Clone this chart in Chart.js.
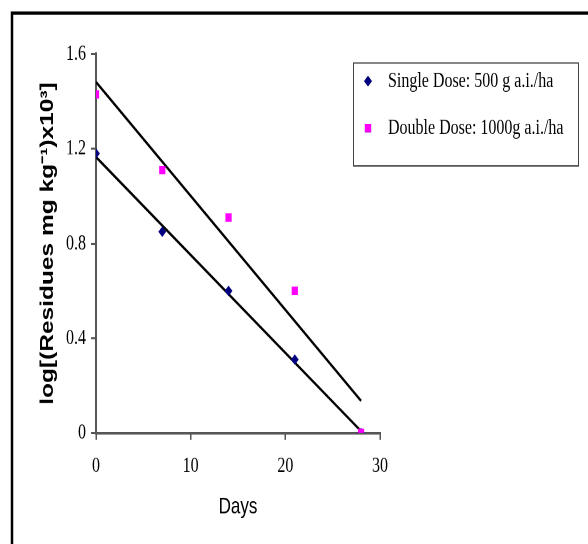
<!DOCTYPE html>
<html>
<head>
<meta charset="utf-8">
<script src="https://cdn.jsdelivr.net/npm/chart.js@4.4.1/dist/chart.umd.min.js"></script>
<style>
  html, body { margin: 0; padding: 0; background: #fff; }
  #wrap { position: absolute; left: 0; top: 0; width: 588px; height: 400px;
          transform: scaleY(1.36); transform-origin: 0 0; }
</style>
</head>
<body>
<div id="wrap"><canvas id="chart" width="588" height="400"></canvas></div>
<script>
// values
var days = [0, 7, 14, 21, 28];
var singleDose = [1.18, 0.85, 0.60, 0.31, 0.0];
var doubleDose = [1.43, 1.11, 0.91, 0.60, 0.0];
// fitted trend lines, start and end (day 0 and day 28)
var trendDays = [0, 28];
var singleTrend = [1.165, 0.008];
var doubleTrend = [1.482, 0.136];
var xTicks = [0, 10, 20, 30];
var yTicks = [0, 0.4, 0.8, 1.2, 1.6];

var serif = "'Liberation Serif', 'Times New Roman', serif";
var sans = "'Liberation Sans', Arial, sans-serif";

function pts(xs, ys) {
    return xs.map(function (x, i) { return {x: x, y: ys[i]}; });
}

// outer frame of the figure
var framePlugin = {
    id: 'frame',
    beforeDraw: function (chart) {
        var ctx = chart.ctx;
        ctx.save();
        ctx.strokeStyle = '#000';
        ctx.lineWidth = 2.5;
        ctx.strokeRect(12, 9.6, 800, 800);
        ctx.restore();
    }
};

// boxed legend in the upper right corner
var legendBox = {
    id: 'legendBox',
    afterDraw: function (chart) {
        var ctx = chart.ctx;
        ctx.save();
        ctx.strokeStyle = '#444';
        ctx.lineWidth = 1;
        ctx.strokeRect(353.5, 46.3, 225, 75.7);
        var rows = [chart.data.datasets[0], chart.data.datasets[1]];
        var ys = [59.6, 94.1];
        rows.forEach(function (ds, i) {
            Chart.helpers.drawPoint(ctx, {
                pointStyle: ds.pointStyle, radius: ds.pointRadius, borderWidth: 0
            }, 368, ys[i]);
            ctx.fillStyle = ds.backgroundColor;
            ctx.fill();
            ctx.fillStyle = '#000';
            ctx.font = '16px ' + serif;
            ctx.textBaseline = 'middle';
            ctx.textAlign = 'left';
            ctx.fillText(ds.label, 388, ys[i]);
        });
        ctx.restore();
    }
};

new Chart(document.getElementById('chart').getContext('2d'), {
    type: 'scatter',
    data: {
        datasets: [{
            label: 'Single Dose: 500 g a.i./ha',
            data: pts(days, singleDose),
            pointStyle: 'rectRot',
            pointRadius: 3.9,
            backgroundColor: '#000080',
            borderColor: '#000080',
            borderWidth: 0,
            order: 1
        }, {
            label: 'Double Dose: 1000g a.i./ha',
            data: pts(days, doubleDose),
            pointStyle: 'rect',
            pointRadius: 4.4,
            backgroundColor: '#ff00ff',
            borderColor: '#ff00ff',
            borderWidth: 0,
            order: 0
        }, {
            type: 'line',
            label: 'trend single',
            data: pts(trendDays, singleTrend),
            borderColor: '#000',
            borderWidth: 2,
            pointRadius: 0,
            fill: false,
            order: 2
        }, {
            type: 'line',
            label: 'trend double',
            data: pts(trendDays, doubleTrend),
            borderColor: '#000',
            borderWidth: 2,
            pointRadius: 0,
            fill: false,
            order: 2
        }]
    },
    options: {
        responsive: false,
        devicePixelRatio: 2,
        animation: false,
        layout: { padding: { left: 33, right: 208, top: 39.7, bottom: 13 } },
        plugins: { legend: { display: false }, tooltip: { enabled: false } },
        scales: {
            x: {
                type: 'linear',
                min: 0, max: 30,
                afterFit: function (s) { s.height = 68.6; },
                afterBuildTicks: function (s) { s.ticks = xTicks.map(function (v) { return {value: v}; }); },
                grid: { drawOnChartArea: false, drawTicks: true, tickLength: 5, color: '#555', lineWidth: 1.5 },
                border: { color: '#555', width: 2 },
                ticks: { color: '#000', padding: 10, font: { family: serif, size: 16 } },
                title: { display: true, text: 'Days', color: '#000', font: { family: sans, size: 17 } }
            },
            y: {
                min: 0, max: 1.6,
                afterFit: function (s) { s.width = 63; },
                afterBuildTicks: function (s) { s.ticks = yTicks.map(function (v) { return {value: v}; }); },
                grid: { drawOnChartArea: false, drawTicks: true, tickLength: 5, color: '#555', lineWidth: 1.5 },
                border: { color: '#555', width: 2 },
                ticks: {
                    color: '#000', padding: 5, font: { family: serif, size: 16 },
                    callback: function (v) { return v === 0 ? '0' : v.toFixed(1); }
                },
                title: {
                    display: true, text: 'log[(Residues mg kg\u207B\u00B9)x10\u00B3]', color: '#000',
                    font: { family: sans, size: 18, weight: 'bold' }
                }
            }
        }
    },
    plugins: [framePlugin, legendBox]
});
</script>
</body>
</html>
